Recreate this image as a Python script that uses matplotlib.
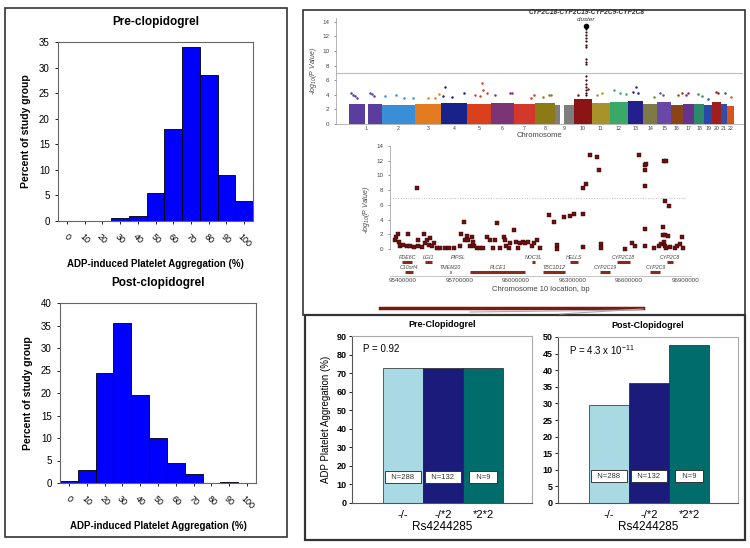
import matplotlib
matplotlib.use("Agg")
import matplotlib.pyplot as plt
from matplotlib.patches import Rectangle
from matplotlib.lines import Line2D

plt.rcParams['font.family'] = ['Liberation Sans Narrow', 'Liberation Sans', 'DejaVu Sans']
plt.rcParams['mathtext.default'] = 'regular'

# ---- histogram data (percent of study group per 10% bin) ----
bins = [0, 10, 20, 30, 40, 50, 60, 70, 80, 90, 100]
pre_pct = [0, 0, 0, 0.5, 1.0, 5.5, 18.0, 34.0, 28.5, 9.0, 4.0]
post_pct = [0.5, 3.0, 24.5, 35.5, 19.5, 10.0, 4.5, 2.0, 0, 0.2, 0]

# ---- genome-wide scan ----
chrom_names = [str(i) for i in range(1, 23)]
chrom_len = [249, 243, 198, 191, 181, 171, 159, 146, 141, 135, 135,
             133, 115, 107, 102, 90, 83, 78, 59, 63, 48, 51]
chrom_band = [2.8, 2.6, 2.8, 2.9, 2.8, 2.9, 2.7, 2.9, 2.6, 3.4, 2.9,
              3.0, 3.1, 2.8, 3.0, 2.6, 2.7, 2.8, 2.6, 3.0, 2.7, 2.5]
chrom_colors = ['#5a3d9c', '#3a8ed8', '#e27c1e', '#17238a', '#d9401c', '#7b3474',
                '#d2392a', '#8c7a16', '#7e7e7e', '#8b1414', '#a8922a', '#3aa866',
                '#23208e', '#7d7a48', '#6a48a8', '#8a4418', '#66338e', '#2a8a6a',
                '#2848aa', '#a01e1e', '#2f4fa6', '#d8541e']
chrom_gaps = {1: (121, 143), 9: (40, 68)}
# notable hits above the bulk: chromosome, position (Mb), -log10 P
hit_chr = [1, 1, 1, 1, 1, 1, 1, 2, 2, 2, 2, 3, 3, 3, 4, 4, 4, 4, 5, 5, 5, 5, 5,
           6, 6, 6, 7, 7, 8, 8, 8, 10, 10, 11, 11, 12, 12, 12, 13, 13, 13, 14,
           15, 15, 16, 16, 17, 17, 18, 18, 19, 20, 20, 21, 22]
hit_pos = [15, 30, 45, 60, 160, 175, 190, 100, 20, 160, 230, 180, 100, 150, 30,
           170, 80, 10, 110, 120, 150, 100, 60, 140, 30, 155, 150, 130, 100, 120,
           60, 110, 30, 80, 40, 30, 80, 120, 60, 40, 80, 80, 20, 40, 50, 80, 40,
           20, 30, 60, 30, 30, 40, 30, 30]
hit_val = [4.2, 4.0, 3.8, 3.5, 4.3, 4.1, 3.8, 4.0, 3.8, 3.5, 3.6, 4.1, 3.6, 3.5,
           5.0, 4.3, 3.7, 3.8, 5.6, 4.7, 4.2, 3.8, 4.0, 4.3, 4.0, 4.2, 3.9, 3.6,
           4.0, 3.9, 3.7, 4.8, 4.0, 4.2, 3.9, 4.6, 4.3, 4.1, 5.1, 4.4, 4.2, 3.7,
           4.2, 4.0, 3.9, 4.3, 4.3, 4.0, 4.1, 3.8, 3.4, 4.4, 4.3, 4.2, 3.7]
peak_chr10_pos = 96
peak_chr10_val = [13.0, 12.6, 12.2, 11.7, 11.3, 10.8, 10.5, 8.9, 8.5, 8.2,
                  6.5, 6.0, 5.5, 5.0, 4.6, 4.2, 3.9]
peak_top = 13.4

# ---- chromosome 10 regional plot (position Mb, -log10 P) ----
reg_pos = [95.354, 95.361, 95.372, 95.379, 95.384, 95.400, 95.420, 95.425, 95.437,
           95.455, 95.473, 95.481, 95.481, 95.499, 95.513, 95.517, 95.526, 95.535,
           95.544, 95.553, 95.566, 95.579, 95.597, 95.623, 95.641, 95.668, 95.703,
           95.709, 95.721, 95.730, 95.739, 95.747, 95.756, 95.765, 95.769, 95.779,
           95.792, 95.810, 95.827, 95.845, 95.863, 95.880, 95.889, 95.898, 95.916,
           95.934, 95.939, 95.946, 95.960, 95.969, 95.987, 96.000, 96.013, 96.022,
           96.035, 96.049, 96.066, 96.085, 96.093, 96.111, 96.125, 96.173, 96.203,
           96.218, 96.218, 96.256, 96.285, 96.310, 96.356, 96.373, 96.356, 96.356,
           96.391, 96.430, 96.439, 96.452, 96.452, 96.581, 96.617, 96.634, 96.652,
           96.687, 96.693, 96.686, 96.687, 96.687, 96.687, 96.731, 96.758, 96.771,
           96.781, 96.785, 96.799, 96.794, 96.811, 96.781, 96.794, 96.806, 96.785,
           96.794, 96.799, 96.820, 96.847, 96.856, 96.870, 96.882, 96.888]
reg_val = [1.2, 1.7, 2.0, 1.0, 0.4, 0.55, 0.4, 2.0, 0.4, 0.3, 8.35, 0.4, 1.2, 0.3,
           2.0, 0.8, 1.2, 0.55, 1.45, 0.4, 0.8, 0.1, 0.1, 0.1, 0.1, 0.1, 0.4, 2.05,
           3.7, 1.2, 1.75, 1.2, 0.4, 1.7, 0.9, 0.4, 0.1, 0.1, 0.1, 1.7, 1.2, 0.1,
           1.2, 3.6, 0.1, 1.7, 1.2, 0.4, 0.1, 0.8, 2.6, 1.0, 0.1, 0.8, 1.0, 0.8, 1.0,
           0.4, 0.8, 1.2, 0.2, 4.6, 3.7, 0.55, 0.0, 4.3, 4.5, 4.75, 8.35, 8.9, 4.7,
           0.3, 12.8, 12.45, 10.75, 0.7, 0.2, 0.0, 0.85, 0.4, 12.8, 11.4, 11.55,
           10.8, 8.55, 2.7, 0.4, 0.1, 0.4, 0.7, 3.0, 12.0, 12.0, 6.55, 5.9, 1.9,
           1.9, 1.75, 1.0, 0.4, 0.2, 0.3, 0.2, 0.4, 0.7, 1.6, 0.1]
gene_names = ['PDE6C', 'LGI1', 'PIPSL', 'NOC3L', 'HELLS', 'CYP2C18', 'CYP2C8',
              'C10orf4', 'TMEM20', 'PLCE1', 'TBC1D12', 'CYP2C19', 'CYP2C9']
gene_start = [95.395, 95.517, 95.691, 96.086, 96.288, 96.538, 96.804,
              95.410, 95.649, 95.756, 96.145, 96.448, 96.714]
gene_end = [95.448, 95.554, 95.694, 96.102, 96.331, 96.607, 96.836,
            95.453, 95.652, 96.049, 96.262, 96.501, 96.767]
gene_row = [0, 0, 0, 0, 0, 0, 0, 1, 1, 1, 1, 1, 1]
reg_ticks = [95.4, 95.7, 96.0, 96.3, 96.6, 96.9]

# ---- genotype bar charts ----
genotypes = ['-/-', '-/*2', '*2*2']
n_labels = ['N=288', 'N=132', 'N=9']
pre_mean = [72.5, 72.5, 72.5]
post_mean = [29.5, 36.0, 47.5]
bar_colors = ['#a9d9e2', '#1b1b7c', '#006c6c']

W, H = 750, 548
fig = plt.figure(figsize=(W / 100, H / 100), dpi=100)


def rect(x0, y0, x1, y1):
    return [x0 / W, 1 - y1 / H, (x1 - x0) / W, (y1 - y0) / H]


def box(x0, y0, x1, y1, lw=1.2, color='#333333'):
    fig.patches.append(Rectangle((x0 / W, 1 - y1 / H), (x1 - x0) / W, (y1 - y0) / H,
                                 transform=fig.transFigure, fill=False, lw=lw,
                                 edgecolor=color))


box(5, 8, 287, 537)
box(303, 10, 745, 315)
box(305, 315, 745, 540, lw=1.6)


# ---- histograms ----
def histogram(pos, values, ymax, ystep, title):
    ax = fig.add_axes(rect(*pos))
    ax.bar(bins, values, width=10, color='#0000ff', edgecolor='black', lw=0.6)
    ax.set_xlim(-5, 105)
    ax.set_ylim(0, ymax)
    ax.set_xticks(bins)
    ax.set_xticklabels([str(b) for b in bins], rotation=-45, ha='center', fontsize=6.5)
    ax.set_yticks(range(0, ymax + 1, ystep))
    ax.tick_params(axis='y', labelsize=7, length=2.5, width=0.6)
    ax.tick_params(axis='x', length=2, width=0.6, pad=6)
    for s in ax.spines.values():
        s.set_color('#666666')
        s.set_linewidth(0.8)
    ax.set_title(title, fontsize=8.5, fontweight='bold', pad=12)
    ax.set_xlabel('ADP-induced Platelet Aggregation (%)', fontsize=7, fontweight='bold',
                  labelpad=7)
    ax.set_ylabel('Percent of study group', fontsize=7.5, fontweight='bold', labelpad=6)
    return ax


histogram((58, 42, 253, 221), pre_pct, 35, 5, 'Pre-clopidogrel')
histogram((60, 303, 256, 483), post_pct, 40, 5, 'Post-clopidogrel')

# ---- Manhattan plot ----
axm = fig.add_axes(rect(336, 18, 743, 124))
offsets = []
start = 0
for L in chrom_len:
    offsets.append(start)
    start += L
total = start
centers = []
for i, L in enumerate(chrom_len):
    c = i + 1
    off = offsets[i]
    segs = [(0, L)]
    if c in chrom_gaps:
        g0, g1 = chrom_gaps[c]
        segs = [(0, g0), (g1, L)]
    for s0, s1 in segs:
        axm.fill_between([off + s0, off + s1], 0, chrom_band[i], color=chrom_colors[i],
                         lw=0)
    centers.append(off + L / 2)
for c, p, v in zip(hit_chr, hit_pos, hit_val):
    axm.plot(offsets[c - 1] + p, v, 'o', ms=1.8, color=chrom_colors[c - 1], mew=0)
px10 = offsets[9] + peak_chr10_pos
axm.plot([px10] * len(peak_chr10_val), peak_chr10_val, 'o', ms=1.6, color='#3a0a0a', mew=0)
axm.plot(px10, peak_top, 'o', ms=3, color='black')
axm.axhline(7, color='#bbbbbb', lw=0.8)
axm.set_xlim(-97, total + 67)
axm.set_ylim(0, 14.5)
axm.set_yticks(range(0, 15, 2))
axm.set_xticks(centers)
axm.set_xticklabels(chrom_names, fontsize=3.8, color='#444444')
axm.tick_params(axis='y', labelsize=4.5, length=1.5, width=0.4, colors='#444444')
axm.tick_params(axis='x', length=0, pad=1.5)
for s in ['top', 'right']:
    axm.spines[s].set_visible(False)
for s in ['left', 'bottom']:
    axm.spines[s].set_color('#999999')
    axm.spines[s].set_linewidth(0.5)
axm.set_xlabel('Chromosome', fontsize=5.5, color='#444444', labelpad=1)
axm.set_ylabel('-log$_{10}$(P Value)', fontsize=5, color='#444444', style='italic',
               labelpad=2)
axm.text(px10, 15.2, 'CYP2C18-CYP2C19-CYP2C9-CYP2C8', fontsize=4.8, style='italic',
         fontweight='bold', color='#333333', ha='center', va='center', clip_on=False)
axm.text(px10, 14.35, 'cluster', fontsize=4.5, style='italic', color='#333333',
         ha='center', va='center', clip_on=False)

# ---- regional plot ----
axr = fig.add_axes(rect(390, 143.8, 691, 275.5))
for gs, ge, row in zip(gene_start, gene_end, gene_row):
    y = -1.75 if row == 0 else -3.1
    axr.plot([gs, ge], [y, y], color='#8b2a1a', lw=2.2, solid_capstyle='butt')
for name, gs, ge, row in zip(gene_names, gene_start, gene_end, gene_row):
    y = -1.15 if row == 0 else -2.45
    axr.text((gs + ge) / 2, y, name, fontsize=3.8, style='italic', color='#444444',
             ha='center', va='center')
axr.plot(reg_pos, reg_val, 's', ms=2.6, color='#6e1010', mec='#2a0505', mew=0.3)
axr.axhline(7, xmax=0.98, color='#bbbbbb', lw=0.7, ls=':')
axr.set_xlim(95.330, 96.930)
axr.set_ylim(-3.6, 14.3)
axr.set_yticks(range(0, 15, 2))
axr.spines['left'].set_bounds(0, 14)
axr.set_xticks(reg_ticks)
axr.set_xticklabels(['%d' % round(t * 1e6) for t in reg_ticks], fontsize=4.5,
                    color='#444444')
axr.tick_params(axis='y', labelsize=4.5, length=1.5, width=0.4, colors='#444444')
axr.tick_params(axis='x', length=0, pad=2)
for s in ['top', 'right']:
    axr.spines[s].set_visible(False)
axr.spines['left'].set_color('#999999')
axr.spines['left'].set_linewidth(0.5)
axr.spines['bottom'].set_color('#bbbbbb')
axr.spines['bottom'].set_linewidth(0.6)
axr.set_xlabel('Chromosome 10 location, bp', fontsize=5.5, color='#444444', labelpad=2)
axr.set_ylabel('-log$_{10}$(P Value)', fontsize=5, color='#444444', style='italic',
               labelpad=3)

# zoom connector under the regional plot
fig.lines.append(Line2D([380 / W, 643 / W], [1 - 308 / H, 1 - 308 / H],
                        transform=fig.transFigure, color='#7a1a12', lw=2.5))
fig.lines.append(Line2D([470 / W, 640 / W], [1 - 312 / H, 1 - 310 / H],
                        transform=fig.transFigure, color='#aaaaaa', lw=0.8))
fig.lines.append(Line2D([560 / W, 643 / W], [1 - 314 / H, 1 - 309 / H],
                        transform=fig.transFigure, color='#aaaaaa', lw=0.8))


# ---- genotype bar charts ----
def genotype_bars(pos, means, ymax, ystep, title, ptext, ny):
    ax = fig.add_axes(rect(*pos))
    x = range(len(genotypes))
    ax.bar(x, means, width=1.0, color=bar_colors, edgecolor='#222222', lw=0.5)
    for xi, lab in zip(x, n_labels):
        ax.text(xi, ny, '  ' + lab + '  ', fontsize=5.5, ha='center', va='center',
                color='#333333',
                bbox=dict(boxstyle='square,pad=0.3', fc='white', ec='#222222', lw=0.6))
    ax.set_xlim(-1.275, 3.225)
    ax.set_ylim(0, ymax)
    ax.set_yticks(range(0, ymax + 1, ystep))
    ax.set_xticks(list(x))
    ax.set_xticklabels(genotypes, fontsize=8)
    for t in ax.get_yticklabels():
        t.set_fontweight('bold')
    ax.tick_params(axis='y', labelsize=6.5, length=2.5, width=0.6, pad=1.5)
    ax.tick_params(axis='x', length=0, pad=5)
    ax.spines['top'].set_color('#aaaaaa')
    ax.spines['right'].set_color('#aaaaaa')
    ax.spines['left'].set_color('#555555')
    ax.spines['bottom'].set_color('#555555')
    ax.set_xlabel('Rs4244285', fontsize=8.5, labelpad=1)
    ax.text(0.5, 1.04, title, transform=ax.transAxes, fontsize=6.5, fontweight='bold',
            ha='center', va='bottom')
    ax.text(0.06, 0.92, ptext, transform=ax.transAxes, fontsize=7, ha='left',
            va='center')
    return ax


axp = genotype_bars((352, 336, 532, 503), pre_mean, 90, 10, 'Pre-Clopidogrel',
                    'P = 0.92', 14)
axp.set_ylabel('ADP Platelet Aggregation (%)', fontsize=7, labelpad=4)
genotype_bars((558, 337, 738, 503), post_mean, 50, 5, 'Post-Clopidogrel',
              'P = 4.3 x 10$^{-11}$', 8.1)

fig.savefig('out.png', dpi=100)
